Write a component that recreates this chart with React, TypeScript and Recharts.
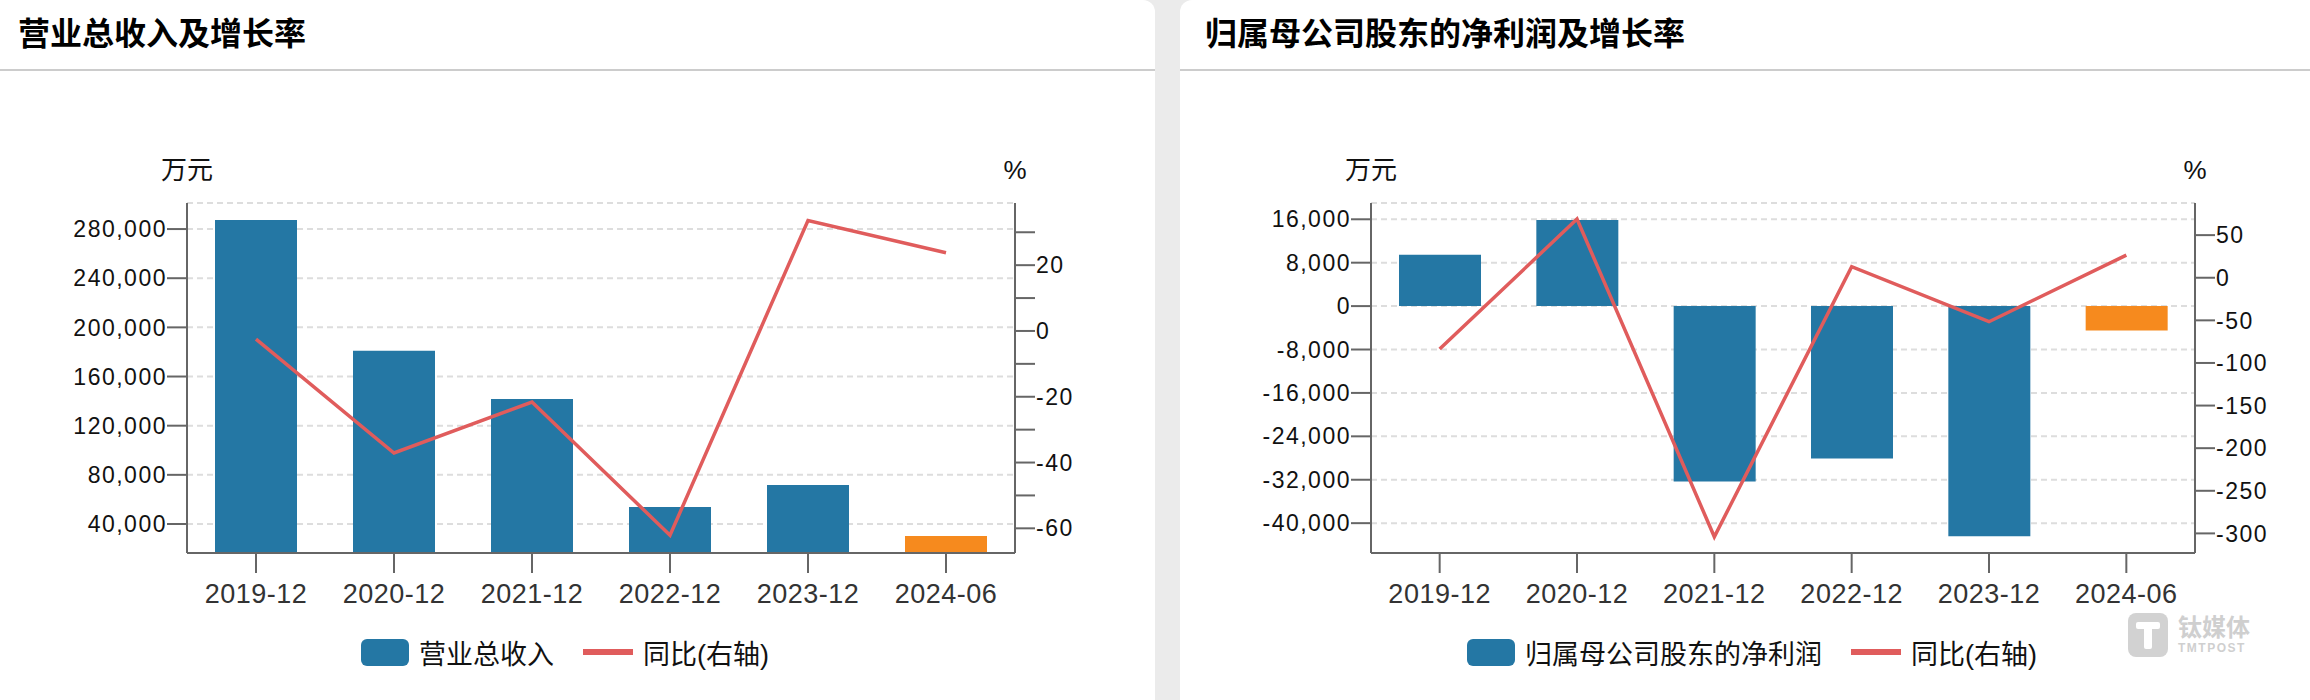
import { ComposedChart, Bar, Line, XAxis, YAxis, CartesianGrid, Cell } from 'recharts'

const periods = ['2019-12', '2020-12', '2021-12', '2022-12', '2023-12', '2024-06']

// 营业总收入 (万元) and 同比 (%)
const revenue = [287300, 181000, 141700, 53840, 71730, 30250]
const revenueGrowth = [-2.5, -37.1, -21.6, -62.1, 33.6, 23.8]
const revenueTicks = [40000, 80000, 120000, 160000, 200000, 240000, 280000]
const revenueGrowthTicks = [-60, -50, -40, -30, -20, -10, 0, 10, 20, 30]

// 归属母公司股东的净利润 (万元) and 同比 (%)
const netProfit = [9460, 15850, -32310, -28070, -42400, -4480]
const netProfitGrowth = [-83.7, 68.9, -304, 12.9, -51.6, 26.6]
const netProfitTicks = [-40000, -32000, -24000, -16000, -8000, 0, 8000, 16000]
const netProfitGrowthTicks = [-300, -250, -200, -150, -100, -50, 0, 50]

const BLUE = '#2477a4'
const ORANGE = '#f68a1e'
const RED = '#e05c5c'
const AXIS = '#666'
const LATIN = '"Liberation Sans", Arial, "Noto Sans CJK SC", sans-serif'
const CJK = '"Liberation Sans", "Noto Sans CJK SC", sans-serif'

const fmt = (v: number) => v.toLocaleString('en-US')

// axis labels: slightly wide digits, like the source
const makeYTick = (format: (v: number) => string) => (props: any) => (
  <text
    x={props.x}
    y={props.y}
    dy='0.355em'
    textAnchor={props.textAnchor}
    fontSize={23}
    fontFamily={LATIN}
    fill='#111'
    style={{ letterSpacing: 1.5 }}
  >
    {format(props.payload.value)}
  </text>
)

const XTick = (props: any) => (
  <text
    x={props.x}
    y={props.y}
    dy='0.71em'
    textAnchor='middle'
    fontSize={27}
    fontFamily={LATIN}
    fill='#333'
    style={{ letterSpacing: 0.5 }}
  >
    {props.payload.value}
  </text>
)

type PanelProps = {
  x: number
  width: number
  title: string
  titleLeft: number
  seriesName: string
  values: number[]
  growth: number[]
  leftTicks: number[]
  leftDomain: [number, number]
  rightTicks: number[]
  rightDomain: [number, number]
  rightLabelStep: number
  leftAxisWidth: number
  rightAxisWidth: number
  legendLeft: number
  roundLeft?: boolean
  watermark?: boolean
}

const Panel = (p: PanelProps) => {
  const data = periods.map((period, i) => ({ period, value: p.values[i], growth: p.growth[i] }))
  const plotRight = p.width - p.rightAxisWidth
  const rightFormat = (v: number) => (v % p.rightLabelStep === 0 ? String(v) : '')

  return (
    <div
      style={{
        position: 'absolute',
        left: p.x,
        top: 0,
        width: p.width,
        height: 700,
        background: '#fff',
        borderTopLeftRadius: p.roundLeft ? 12 : 0,
        borderTopRightRadius: p.roundLeft ? 0 : 12,
        overflow: 'hidden',
      }}
    >
      <div
        style={{
          position: 'absolute',
          left: p.titleLeft,
          top: 18,
          fontSize: 32,
          lineHeight: '32px',
          fontWeight: 700,
          fontFamily: CJK,
          color: '#000',
          whiteSpace: 'nowrap',
        }}
      >
        {p.title}
      </div>
      <div style={{ position: 'absolute', left: 0, top: 69, width: '100%', height: 2, background: '#cccccc' }} />

      <div style={{ position: 'absolute', left: p.leftAxisWidth - 50, top: 157, width: 100, textAlign: 'center', fontSize: 26, lineHeight: '26px', fontFamily: CJK, color: '#111' }}>
        万元
      </div>
      <div style={{ position: 'absolute', left: plotRight - 50, top: 157, width: 100, textAlign: 'center', fontSize: 26, lineHeight: '26px', fontFamily: LATIN, color: '#111' }}>
        %
      </div>

      <div style={{ position: 'absolute', left: 0, top: 0 }}>
        <ComposedChart width={p.width} height={700} data={data} margin={{ top: 203, right: 0, bottom: 0, left: 0 }}>
          <CartesianGrid yAxisId='left' vertical={false} stroke='#dddddd' strokeWidth={2} strokeDasharray='6 4' />
          <XAxis
            dataKey='period'
            height={147}
            interval={0}
            tickSize={20}
            tickMargin={11}
            axisLine={{ stroke: AXIS, strokeWidth: 2 }}
            tickLine={{ stroke: AXIS, strokeWidth: 2 }}
            tick={XTick}
          />
          <YAxis
            yAxisId='left'
            orientation='left'
            width={p.leftAxisWidth}
            domain={p.leftDomain}
            allowDataOverflow
            ticks={p.leftTicks}
            interval={0}
            tickSize={20}
            tickMargin={0}
            axisLine={{ stroke: AXIS, strokeWidth: 2 }}
            tickLine={{ stroke: AXIS, strokeWidth: 2 }}
            tick={makeYTick(fmt)}
          />
          <YAxis
            yAxisId='right'
            orientation='right'
            width={p.rightAxisWidth}
            domain={p.rightDomain}
            allowDataOverflow
            ticks={p.rightTicks}
            interval={0}
            tickSize={20}
            tickMargin={1}
            axisLine={{ stroke: AXIS, strokeWidth: 2 }}
            tickLine={{ stroke: AXIS, strokeWidth: 2 }}
            tick={makeYTick(rightFormat)}
          />
          <Bar yAxisId='left' dataKey='value' barSize={82} isAnimationActive={false}>
            {data.map((_, i) => (
              <Cell key={`cell-${i}`} fill={i === data.length - 1 ? ORANGE : BLUE} />
            ))}
          </Bar>
          <Line
            yAxisId='right'
            dataKey='growth'
            type='linear'
            stroke={RED}
            strokeWidth={3.5}
            dot={false}
            activeDot={false}
            isAnimationActive={false}
          />
        </ComposedChart>
      </div>

      <div
        style={{
          position: 'absolute',
          left: p.legendLeft,
          top: 638,
          height: 28,
          display: 'flex',
          alignItems: 'center',
          fontSize: 27,
          fontFamily: CJK,
          color: '#111',
          whiteSpace: 'nowrap',
        }}
      >
        <div style={{ width: 48, height: 27, borderRadius: 6, background: BLUE }} />
        <span style={{ marginLeft: 10 }}>{p.seriesName}</span>
        <div style={{ width: 50, height: 6, background: RED, marginLeft: 29 }} />
        <span style={{ marginLeft: 10 }}>同比(右轴)</span>
      </div>

      {p.watermark && (
        <div style={{ position: 'absolute', left: 948, top: 613, display: 'flex', alignItems: 'center', color: '#cfcfcf' }}>
          <svg width={40} height={44} viewBox='0 0 40 44'>
            <rect x={0} y={0} width={40} height={44} rx={8} fill='#d2d2d2' />
            <rect x={8} y={9} width={24} height={7} rx={2} fill='#fff' />
            <rect x={16} y={9} width={8} height={27} rx={2} fill='#fff' />
          </svg>
          <div style={{ marginLeft: 10, display: 'flex', flexDirection: 'column', alignItems: 'flex-start' }}>
            <span style={{ fontSize: 24, lineHeight: '26px', fontWeight: 700, fontFamily: CJK }}>钛媒体</span>
            <span style={{ fontSize: 12, lineHeight: '14px', fontWeight: 700, fontFamily: LATIN, letterSpacing: 1.5 }}>TMTPOST</span>
          </div>
        </div>
      )}
    </div>
  )
}

const App = () => {
  return (
    <div style={{ position: 'absolute', left: 0, top: 0, width: 2310, height: 700, background: '#ebebeb', overflow: 'hidden' }}>
      <Panel
        x={0}
        width={1155}
        title='营业总收入及增长率'
        titleLeft={18}
        seriesName='营业总收入'
        values={revenue}
        growth={revenueGrowth}
        leftTicks={revenueTicks}
        leftDomain={[16400, 301200]}
        rightTicks={revenueGrowthTicks}
        rightDomain={[-67.5, 38.9]}
        rightLabelStep={20}
        leftAxisWidth={187}
        rightAxisWidth={140}
        legendLeft={361}
      />
      <Panel
        x={1180}
        width={1130}
        title='归属母公司股东的净利润及增长率'
        titleLeft={25}
        seriesName='归属母公司股东的净利润'
        values={netProfit}
        growth={netProfitGrowth}
        leftTicks={netProfitTicks}
        leftDomain={[-45500, 19000]}
        rightTicks={netProfitGrowthTicks}
        rightDomain={[-323, 87.7]}
        rightLabelStep={50}
        leftAxisWidth={191}
        rightAxisWidth={115}
        legendLeft={287}
        roundLeft
        watermark
      />
    </div>
  )
}

export default App
